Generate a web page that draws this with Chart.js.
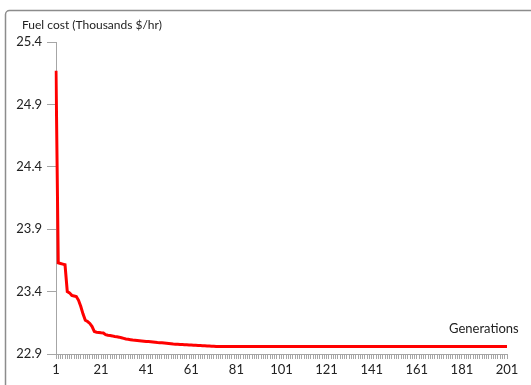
<!DOCTYPE html>
<html>
<head>
<meta charset="utf-8">
<script src="https://cdn.jsdelivr.net/npm/chart.js@4"></script>
<style>
  html, body { margin: 0; padding: 0; background: #fff; overflow: hidden; }
  #wrap { position: relative; width: 531px; height: 385px; }
</style>
</head>
<body>
<div id="wrap"><canvas id="myChart" width="531" height="385"></canvas></div>
<script>
// datos: costo de combustible por generacion
const generaciones = [];
for (let g = 1; g <= 201; g++) generaciones.push(String(g));

const costo = [
  25.17, 23.63, 23.625, 23.62, 23.615, 23.40, 23.39, 23.37, 23.365, 23.36,
  23.33, 23.28, 23.22, 23.17, 23.16, 23.145, 23.12, 23.08, 23.075, 23.073,
  23.07, 23.068, 23.055, 23.05, 23.048, 23.045, 23.04, 23.038, 23.035, 23.03,
  23.025, 23.02, 23.018, 23.015, 23.012, 23.01, 23.008, 23.006, 23.004, 23.002,
  23.0, 23.0, 22.998, 22.996, 22.994, 22.992, 22.991, 22.99, 22.988, 22.986,
  22.984, 22.982, 22.98, 22.979, 22.978, 22.977, 22.976, 22.975, 22.974, 22.973,
  22.972, 22.971, 22.97, 22.969, 22.968, 22.967, 22.966, 22.965, 22.964, 22.963,
  22.962, 22.96, 22.96, 22.96, 22.96, 22.96, 22.96, 22.96, 22.96, 22.96,
  22.96, 22.96, 22.96, 22.96, 22.96, 22.96, 22.96, 22.96, 22.96, 22.96,
  22.96, 22.96, 22.96, 22.96, 22.96, 22.96, 22.96, 22.96, 22.96, 22.96,
  22.96, 22.96, 22.96, 22.96, 22.96, 22.96, 22.96, 22.96, 22.96, 22.96,
  22.96, 22.96, 22.96, 22.96, 22.96, 22.96, 22.96, 22.96, 22.96, 22.96,
  22.96, 22.96, 22.96, 22.96, 22.96, 22.96, 22.96, 22.96, 22.96, 22.96,
  22.96, 22.96, 22.96, 22.96, 22.96, 22.96, 22.96, 22.96, 22.96, 22.96,
  22.96, 22.96, 22.96, 22.96, 22.96, 22.96, 22.96, 22.96, 22.96, 22.96,
  22.96, 22.96, 22.96, 22.96, 22.96, 22.96, 22.96, 22.96, 22.96, 22.96,
  22.96, 22.96, 22.96, 22.96, 22.96, 22.96, 22.96, 22.96, 22.96, 22.96,
  22.96, 22.96, 22.96, 22.96, 22.96, 22.96, 22.96, 22.96, 22.96, 22.96,
  22.96, 22.96, 22.96, 22.96, 22.96, 22.96, 22.96, 22.96, 22.96, 22.96,
  22.96, 22.96, 22.96, 22.96, 22.96, 22.96, 22.96, 22.96, 22.96, 22.96,
  22.96
];

const yTicks = [22.9, 23.4, 23.9, 24.4, 24.9, 25.4];
const tituloY = "Fuel cost (Thousands $/hr)";
const tituloX = "Generations";

const fuente = "Lato, 'Open Sans', sans-serif";
const gris = "#a6a6a6";

// plugin para el marco y los titulos de los ejes
const textos = {
  id: "textos",
  beforeDraw(chart) {
    const ctx = chart.ctx;
    ctx.save();
    ctx.fillStyle = "#fff";
    ctx.fillRect(0, 0, chart.width, chart.height);
    ctx.strokeStyle = "#8c8c8c";
    ctx.lineWidth = 1.5;
    ctx.beginPath();
    ctx.roundRect(5.5, 10.5, 540, 390, 4);
    ctx.stroke();
    ctx.restore();
  },
  afterDraw(chart) {
    const ctx = chart.ctx;
    ctx.save();
    ctx.fillStyle = "#222";
    ctx.textBaseline = "middle";
    ctx.font = "12px " + fuente;
    ctx.textAlign = "left";
    ctx.fillText(tituloY, 22, 25);
    ctx.font = "13px " + fuente;
    ctx.fillText(tituloX, 449, 329);
    ctx.restore();
  }
};

const config = {
  type: "line",
  data: {
    labels: generaciones,
    datasets: [{
      data: costo,
      borderColor: "#ff0000",
      borderWidth: 3,
      pointRadius: 0,
      tension: 0,
      fill: false
    }]
  },
  options: {
    responsive: false,
    animation: false,
    layout: { padding: { left: 0, right: 24, top: 42, bottom: 0 } },
    plugins: { legend: { display: false }, tooltip: { enabled: false } },
    scales: {
      x: {
        offset: false,
        afterFit(scale) { scale.height = 31; },
        border: { color: gris, width: 1 },
        grid: { drawOnChartArea: false, tickLength: 5, color: gris },
        ticks: {
          autoSkip: false,
          maxRotation: 0,
          padding: 3,
          color: "#222",
          font: { family: fuente, size: 13 },
          callback(val, i) { return i % 20 === 0 ? generaciones[i] : ""; }
        }
      },
      y: {
        min: 22.9,
        max: 25.4,
        afterFit(scale) { scale.width = 56; },
        afterBuildTicks(scale) { scale.ticks = yTicks.map(v => ({ value: v })); },
        border: { color: gris, width: 1 },
        grid: { drawOnChartArea: false, tickLength: 9, color: gris },
        ticks: {
          padding: 5,
          color: "#222",
          font: { family: fuente, size: 13 },
          callback(v) { return Number(v).toFixed(1); }
        }
      }
    }
  },
  plugins: [textos]
};

new Chart(document.getElementById("myChart"), config);
</script>
</body>
</html>
